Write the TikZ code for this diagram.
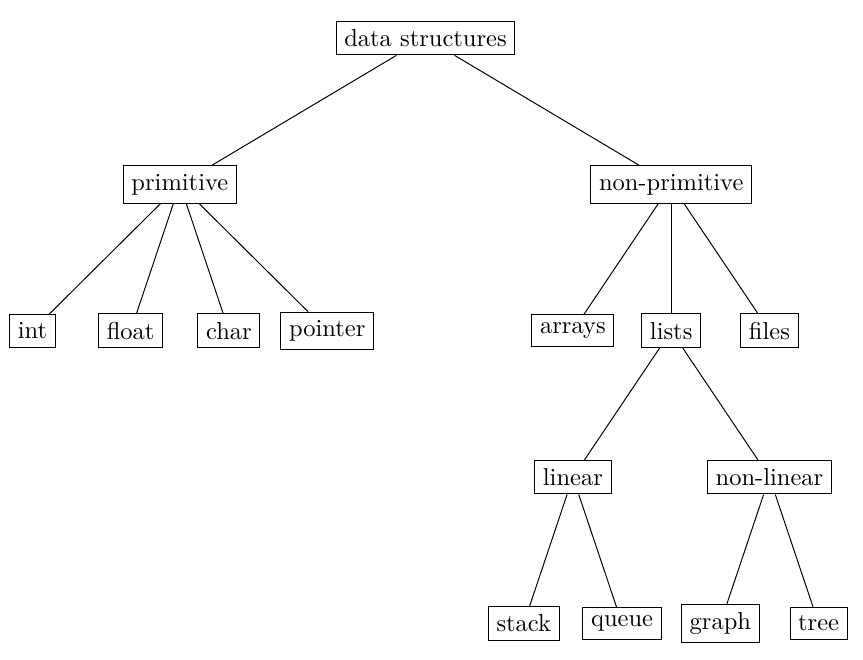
\documentclass[tikz,border=0pt]{standalone}
\usepackage{tikz}
\usetikzlibrary{positioning}

\begin{document}
\begin{tikzpicture}[x=1.41cm, y=2.1cm, box/.style={draw, rectangle}]
    \useasboundingbox (-4.33,-4.243) rectangle (4.452,0.26);

    % Root and first split
    \node[box] (ds) at (0, 0) {data structures};
    \node[box] (prim) at (-2.5, -1) {primitive};
    \node[box] (nonprim) at (2.5, -1) {non-primitive};
    \draw (ds) -- (prim);
    \draw (ds) -- (nonprim);

    % Primitive types
    \foreach \x/\n in {-4/int, -3/float, -2/char, -1/pointer} {
        \node[box] (\n) at (\x, -2) {\n};
        \draw (prim) -- (\n);
    }

    % Non-primitive types
    \foreach \x/\n in {1.5/arrays, 2.5/lists, 3.5/files} {
        \node[box] (\n) at (\x, -2) {\n};
        \draw (nonprim) -- (\n);
    }

    % Lists
    \node[box] (linear) at (1.5, -3) {linear};
    \node[box] (nonlinear) at (3.5, -3) {non-linear};
    \draw (lists) -- (linear);
    \draw (lists) -- (nonlinear);

    % Leaves
    \foreach \x/\n/\p in {1/stack/linear, 2/queue/linear, 3/graph/nonlinear, 4/tree/nonlinear} {
        \node[box] (\n) at (\x, -4) {\n};
        \draw (\p) -- (\n);
    }
\end{tikzpicture}
\end{document}
